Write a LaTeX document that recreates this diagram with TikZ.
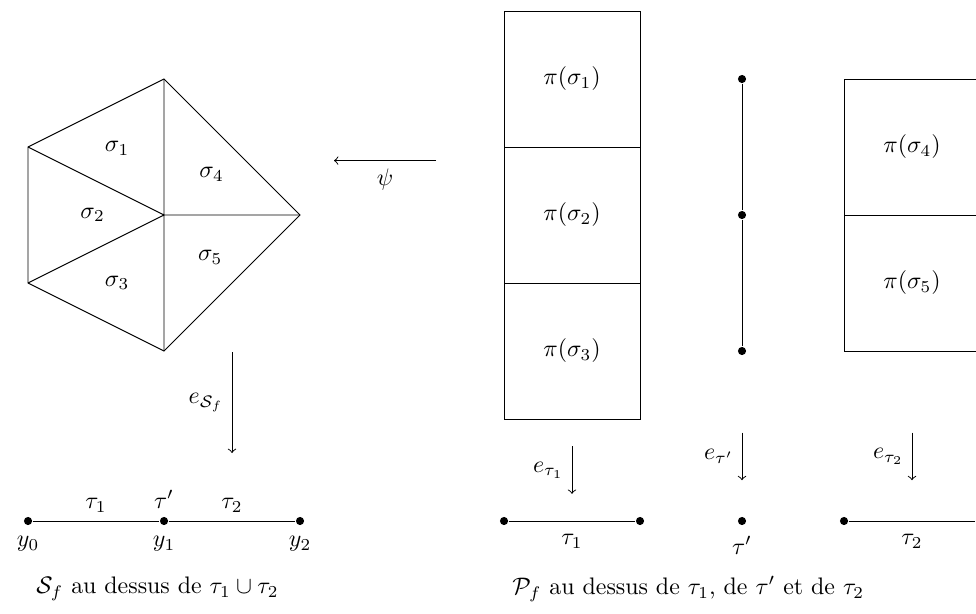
\documentclass[tikz,border=0pt]{standalone}
\begin{document}
\begin{tikzpicture}[
  dot/.style={circle,fill,inner sep=0pt,minimum size=3.4pt},
  cell/.style={draw,minimum width=2cm,minimum height=2cm,inner sep=0pt},
  map/.style={->},
  lowlab/.style={below,yshift=-2pt}
]
\useasboundingbox (-2.412,-5.853) rectangle (11.941,3.162);
\clip (-2.412,-5.853) rectangle (11.941,3.162);
% pentagon
\coordinate (c) at (0,0);
\coordinate (t) at (0,2);
\coordinate (r) at (2,0);
\coordinate (b) at (0,-2);
\coordinate (ul) at (-2,1);
\coordinate (ll) at (-2,-1);
\draw (t) -- (r) -- (b) -- (ll) -- (ul) -- cycle;
\draw (c) -- (t) (c) -- (r) (c) -- (b) (c) -- (ul) (c) -- (ll);
\node (s1) at (-0.69,0.98) {$\sigma_1$};
\node (s2) at (-1.05,0) {$\sigma_2$};
\node (s3) at (-0.69,-1) {$\sigma_3$};
\node (s4) at (0.7,0.6) {$\sigma_4$};
\node (s5) at (0.68,-0.62) {$\sigma_5$};
% psi
\coordinate (psiA) at (4,0.8);
\coordinate (psiB) at (2.5,0.8);
\draw[map] (psiA) -- node[below] (psi) {$\psi$} (psiB);
% e_Sf
\coordinate (eA) at (1,-2.02);
\coordinate (eB) at (1,-3.5);
\draw[map] (eA) -- node[left] (eS) {$e_{\mathcal{S}_f}$} (eB);
% base line
\node[dot,label={[yshift=-1pt]below:$y_0$}] (y0) at (-2,-4.5) {};
\node[dot,label={[yshift=-1pt]below:$y_1$},label=above:$\tau'$] (y1) at (0,-4.5) {};
\node[dot,label={[yshift=-1pt]below:$y_2$}] (y2) at (2,-4.5) {};
\draw (y0) -- node[above] (t1) {$\tau_1$} (y1) -- node[above] (t2) {$\tau_2$} (y2);
\node[anchor=west] (capL) at (-2,-5.5) {$\mathcal{S}_f$ au dessus de $\tau_1\cup\tau_2$};
% right: column of boxes
\node[cell] (p1) at (6,2) {$\pi(\sigma_1)$};
\node[cell] (p2) at (6,0) {$\pi(\sigma_2)$};
\node[cell] (p3) at (6,-2) {$\pi(\sigma_3)$};
% middle segment
\node[dot] (m1) at (8.5,2) {};
\node[dot] (m2) at (8.5,0) {};
\node[dot] (m3) at (8.5,-2) {};
\draw (m1) -- (m2) -- (m3);
% right boxes
\node[cell] (p4) at (11,1) {$\pi(\sigma_4)$};
\node[cell] (p5) at (11,-1) {$\pi(\sigma_5)$};
% arrows
\coordinate (a1) at (6,-3.4);
\coordinate (b1) at (6,-4.1);
\draw[map] (a1) -- node[left] (et1) {$e_{\tau_1}$} (b1);
\coordinate (a2) at (8.5,-3.2);
\coordinate (b2) at (8.5,-3.9);
\draw[map] (a2) -- node[left] (etp) {$e_{\tau'}$} (b2);
\coordinate (a3) at (11,-3.2);
\coordinate (b3) at (11,-3.9);
\draw[map] (a3) -- node[left] (et2) {$e_{\tau_2}$} (b3);
% bottom pieces
\node[dot] (u1) at (5,-4.5) {};
\node[dot] (u2) at (7,-4.5) {};
\draw (u1) -- node[lowlab] (lt1) {$\tau_1$} (u2);
\node[dot,label={[yshift=-1pt]below:$\tau'$}] (u3) at (8.5,-4.5) {};
\node[dot] (u4) at (10,-4.5) {};
\node[dot] (u5) at (12,-4.5) {};
\draw (u4) -- node[lowlab] (lt2) {$\tau_2$} (u5);
\node[anchor=west] (capR) at (5,-5.5) {$\mathcal{P}_f$ au dessus de $\tau_1$, de $\tau'$ et de $\tau_2$};
\end{tikzpicture}
\end{document}
